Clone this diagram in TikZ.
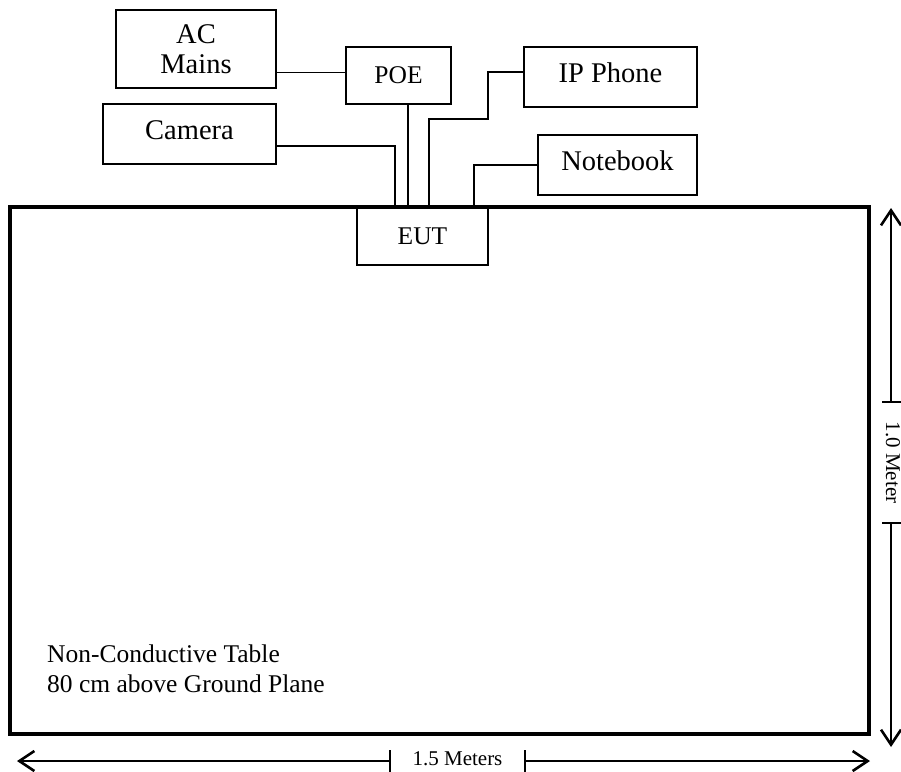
\documentclass[tikz,border=0pt]{standalone}
\usepackage{fontspec}
\setmainfont{Liberation Serif}
\usetikzlibrary{arrows.meta,positioning,calc}

\tikzset{
	box/.style={draw, line width=1.8pt, inner sep=0pt, minimum height=60pt, align=center, font=\fontsize{28.5}{30}\selectfont},
	raised/.style={text height=19pt, text depth=9pt},
	small/.style={font=\fontsize{25.5}{28}\selectfont},
	cable/.style={line width=1.7pt},
	dimline/.style={line width=1.7pt, -{Straight Barb[length=15pt,width=20pt,line width=2.6pt]}},
	dimtext/.style={font=\fontsize{21}{24}\selectfont, inner sep=0pt, anchor=base},
}

\begin{document}
\begin{tikzpicture}[x=1pt,y=-1pt]
			\useasboundingbox (0,0) rectangle (901,771);
			\node[draw, line width=3.5pt, inner sep=0pt, minimum width=859pt, minimum height=527pt] (table) at (439.5,470.5) {};
			\node[anchor=north west, align=left, inner sep=0pt, font=\fontsize{25.5}{30}\selectfont] (note) at (47,645)
				{Non-Conductive Table\\80 cm above Ground Plane};

			\node[box, minimum width=160pt, minimum height=78pt] (mains) at (196,49) {AC\\Mains};
			\node[box, small, minimum width=105pt, minimum height=57pt] (poe) at (398.5,75.5) {POE};
			\node[box, raised, minimum width=173pt] (camera) at (189.5,134) {Camera};
			\node[box, raised, minimum width=173pt] (phone) at (610.5,77) {IP Phone};
			\node[box, raised, minimum width=159pt] (notebook) at (617.5,165) {Notebook};
			\node[box, small, minimum width=131pt, minimum height=58pt] (eut) at (422.5,236) {EUT};

			\coordinate (in-cam) at ($(eut.north west)+(39,0)$);
			\coordinate (in-poe) at ($(eut.north west)+(52,0)$);
			\coordinate (in-ph) at ($(eut.north west)+(73,0)$);
			\coordinate (in-nb) at ($(eut.north west)+(118,0)$);

			\draw[cable] ($(poe.west)+(0,-3)$) coordinate (q) -- (q -| mains.east);
			\draw[cable] ($(camera.east)+(0,12)$) -| (in-cam);
			\draw[cable] (in-poe |- poe.south) -- (in-poe);
			\draw[cable] ($(phone.west)+(0,-5)$) -| (488,119) -| (in-ph);
			\draw[cable] (notebook.west) -| (in-nb);

			% dimensions
			\draw[dimline] (891,402) -- (891,208);
			\draw[dimline] (891,523) -- (891,747);
			\draw[cable] (882,402) -- (902,402) (882,523) -- (902,523);
			\node[dimtext, rotate=-90] (depth) at (886,462.5) {1.0 Meter};

			\draw[dimline] (390,761) -- (17,761);
			\draw[dimline] (525,761) -- (870,761);
			\draw[cable] (390,750) -- (390,772) (525,750) -- (525,772);
			\node[dimtext] (width) at (457.5,765) {1.5 Meters};
		\end{tikzpicture}
\end{document}
